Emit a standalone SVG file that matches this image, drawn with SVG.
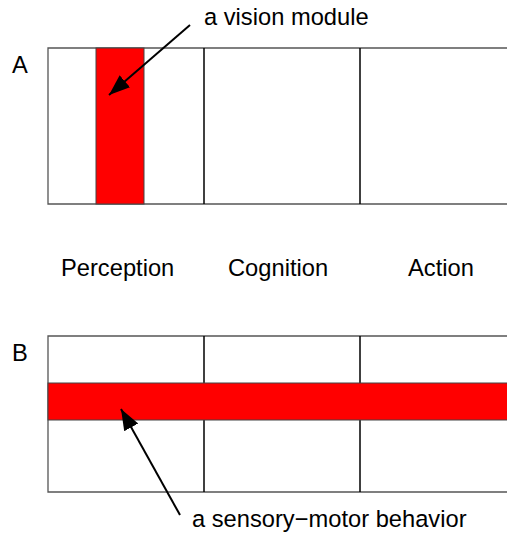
<svg xmlns="http://www.w3.org/2000/svg" width="507" height="535" viewBox="0 0 507 535">
<defs>
<style>
.lbl{font-family:"Liberation Sans",Arial,sans-serif;font-size:23.7px;fill:#000}
.frame{stroke:#555;stroke-width:1.3;fill:none}
.div{stroke:#000;stroke-width:1.5}
.mod{fill:#ff0000;stroke:#444;stroke-width:1}
.arr{stroke:#000;stroke-width:2;fill:none;marker-end:url(#ah)}
</style>
<marker id="ah" markerUnits="userSpaceOnUse" markerWidth="24" markerHeight="18" refX="21" refY="8" orient="auto">
<path d="M0,0 L21,8 L0,16 Z" fill="#000"/>
</marker>
</defs>
<rect width="507" height="535" fill="#fff"/>
<g id="panelA">
<path class="frame" d="M507,48 H48 V204 H507"/>
<line class="div" x1="204" y1="48" x2="204" y2="204"/>
<line class="div" x1="360" y1="48" x2="360" y2="204"/>
<text class="lbl" x="12" y="73">A</text>
</g>
<g id="vision-module">
<rect class="mod" x="96" y="48" width="48" height="156"/>
</g>
<g id="column-labels">
<text class="lbl" x="61" y="276">Perception</text>
<text class="lbl" x="228" y="276">Cognition</text>
<text class="lbl" x="408" y="276">Action</text>
</g>
<g id="panelB">
<path class="frame" d="M507,336 H48 V492 H507"/>
<line class="div" x1="204" y1="336" x2="204" y2="492"/>
<line class="div" x1="360" y1="336" x2="360" y2="492"/>
<text class="lbl" x="12" y="361">B</text>
</g>
<g id="sensory-motor-behavior">
<rect class="mod" x="48" y="383" width="470" height="37"/>
</g>
<g id="connectors">
<line class="arr" x1="190" y1="25" x2="109" y2="95"/>
<line class="arr" x1="180" y1="515" x2="121" y2="409"/>
</g>
<g id="annotations">
<text class="lbl" x="204" y="25">a vision module</text>
<text class="lbl" x="192" y="527">a sensory−motor behavior</text>
</g>
</svg>
